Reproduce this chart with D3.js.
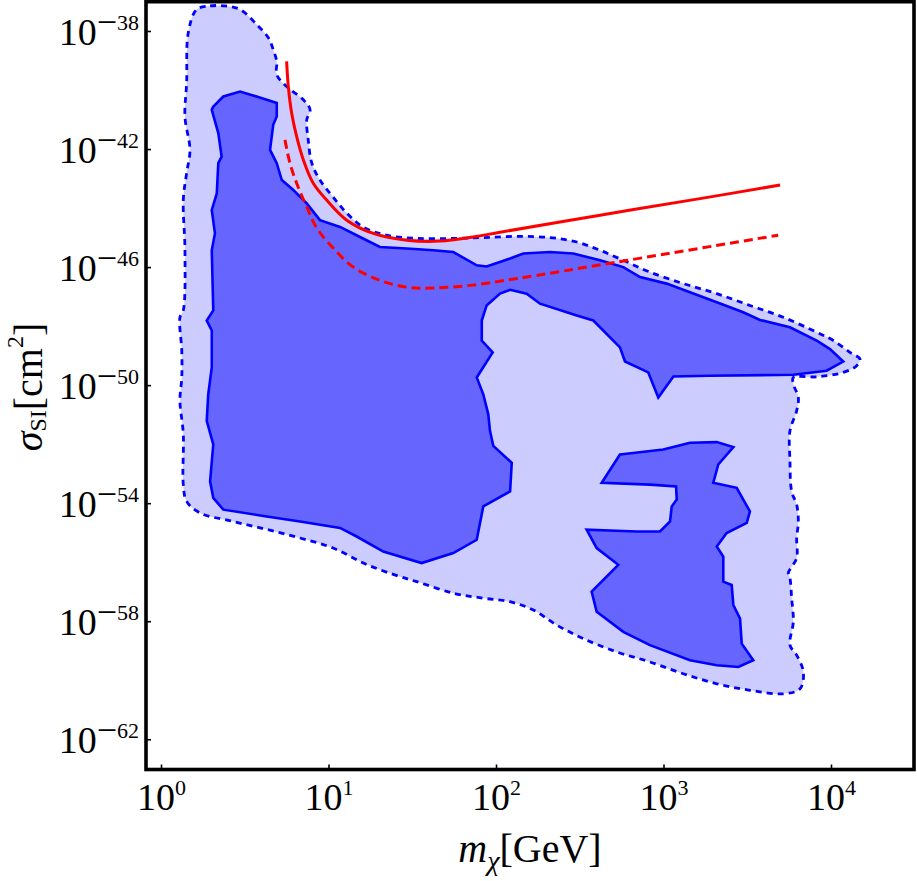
<!DOCTYPE html>
<html>
<head>
<meta charset="utf-8">
<script src="https://cdn.jsdelivr.net/npm/d3@7"></script>
<style>
  html, body { margin: 0; padding: 0; background: #ffffff; }
  svg { display: block; }
  text { font-family: "Liberation Serif", "Times New Roman", serif; fill: #000; }
</style>
</head>
<body>
<svg id="chart" width="917" height="881"></svg>
<script>
// ---------------- DATA ----------------
// Tick positions (powers of ten)
const xTickExps = [0, 1, 2, 3, 4];
const yTickExps = [-38, -42, -46, -50, -54, -58, -62];

// All shapes below: [log10(m_chi / GeV), log10(sigma_SI / cm^2)]
// Outer (light) allowed region, dashed boundary
const outerRegion = [
  [0.213,-37.27],[0.293,-37.15],[0.382,-37.15],[0.472,-37.27],[0.571,-37.78],[0.641,-38.23],
  [0.670,-38.63],[0.691,-39.03],[0.691,-39.48],[0.750,-39.88],[0.850,-40.33],[0.890,-40.67],
  [0.870,-41.01],[0.879,-41.69],[0.900,-42.47],[0.949,-43.05],[1.027,-43.62],[1.109,-44.17],
  [1.206,-44.64],[1.347,-44.92],[1.527,-45.03],[1.743,-45.03],[1.924,-45.00],[2.124,-44.96],
  [2.322,-45.00],[2.482,-45.15],[2.621,-45.43],[2.760,-45.77],[2.919,-46.17],[3.118,-46.56],
  [3.318,-46.90],[3.516,-47.30],[3.715,-47.70],[3.915,-48.21],[4.014,-48.49],[4.113,-48.89],
  [4.173,-49.12],[4.153,-49.34],[4.073,-49.57],[3.915,-49.72],[3.775,-49.74],[3.775,-49.96],
  [3.805,-50.42],[3.795,-50.87],[3.755,-51.55],[3.755,-52.57],[3.765,-53.60],[3.795,-54.05],
  [3.805,-54.62],[3.795,-55.18],[3.795,-55.86],[3.745,-56.37],[3.755,-56.54],[3.765,-57.22],
  [3.775,-58.02],[3.755,-58.81],[3.795,-59.15],[3.835,-59.72],[3.815,-60.29],[3.715,-60.46],
  [3.516,-60.34],[3.318,-60.12],[3.118,-59.78],[2.919,-59.38],[2.721,-59.04],[2.521,-58.59],
  [2.362,-58.13],[2.223,-57.62],[2.084,-57.34],[1.924,-57.22],[1.745,-57.05],[1.527,-56.66],
  [1.427,-56.49],[1.228,-56.08],[1.027,-55.52],[0.830,-55.18],[0.631,-54.89],[0.430,-54.62],
  [0.233,-54.33],[0.153,-53.94],[0.133,-53.36],[0.133,-51.66],[0.113,-50.53],[0.124,-49.74],
  [0.124,-48.83],[0.113,-47.70],[0.133,-47.47],[0.143,-45.43],[0.133,-43.73],[0.153,-42.81],
  [0.173,-42.03],[0.143,-40.91],[0.153,-39.75],[0.163,-38.05]
];

// Inner (dark) region: left column + upper band
const innerRegionA = [
  [0.312,-40.56],[0.372,-40.22],[0.472,-40.05],[0.571,-40.22],[0.691,-40.44],[0.691,-40.90],
  [0.670,-41.18],[0.651,-42.03],[0.691,-42.48],[0.721,-43.05],[0.790,-43.39],[0.870,-43.84],
  [0.949,-44.41],[1.069,-44.64],[1.188,-44.98],[1.307,-45.32],[1.467,-45.37],[1.626,-45.43],
  [1.745,-45.49],[1.885,-45.94],[1.944,-45.98],[2.084,-45.71],[2.163,-45.54],[2.322,-45.49],
  [2.461,-45.54],[2.621,-45.77],[2.760,-46.00],[2.860,-46.34],[3.019,-46.56],[3.158,-46.85],
  [3.318,-47.19],[3.476,-47.53],[3.576,-47.79],[3.755,-48.04],[3.915,-48.49],[3.994,-48.78],
  [4.073,-49.20],[3.974,-49.51],[3.775,-49.65],[3.278,-49.68],[3.059,-49.71],[2.969,-50.42],
  [2.909,-49.57],[2.770,-49.20],[2.740,-48.72],[2.581,-47.81],[2.482,-47.64],[2.263,-47.24],
  [2.183,-46.90],[2.084,-46.77],[2.024,-46.90],[1.944,-47.30],[1.915,-47.81],[1.915,-48.49],
  [1.980,-48.89],[1.885,-49.74],[1.924,-50.31],[1.954,-50.99],[1.964,-51.55],[1.984,-52.06],
  [2.094,-52.63],[2.084,-53.60],[1.924,-54.11],[1.885,-55.24],[1.745,-55.69],[1.556,-56.03],
  [1.327,-55.64],[1.168,-55.13],[1.069,-54.84],[0.830,-54.62],[0.631,-54.45],[0.372,-54.22],
  [0.312,-53.82],[0.293,-53.26],[0.312,-52.01],[0.273,-51.21],[0.282,-50.31],[0.303,-49.40],
  [0.303,-48.15],[0.273,-47.81],[0.312,-47.47],[0.303,-45.43],[0.322,-44.86],[0.303,-44.07],
  [0.333,-43.50],[0.342,-42.48],[0.362,-42.26],[0.342,-41.46],[0.303,-40.67]
];

// Inner (dark) region: lower-right island
const innerRegionB = [
  [2.740,-52.35],[2.999,-52.18],[3.158,-51.95],[3.318,-51.93],[3.417,-52.10],[3.327,-52.69],
  [3.297,-53.31],[3.437,-53.48],[3.516,-54.28],[3.497,-54.67],[3.377,-55.01],[3.318,-55.47],
  [3.357,-55.81],[3.357,-56.66],[3.407,-56.77],[3.417,-57.45],[3.457,-57.91],[3.467,-58.76],
  [3.536,-59.32],[3.447,-59.55],[3.318,-59.49],[3.158,-59.32],[2.919,-58.81],[2.760,-58.36],
  [2.601,-57.68],[2.571,-57.00],[2.730,-56.09],[2.601,-55.52],[2.541,-54.90],[2.840,-54.96],
  [2.979,-54.96],[3.039,-54.62],[3.049,-54.11],[3.079,-53.88],[3.075,-53.43],[2.919,-53.37],
  [2.631,-53.31]
];

// Experimental limits (red)
const limitSolid = [
  [0.750,-39.03],[0.760,-39.88],[0.780,-40.78],[0.810,-41.58],[0.850,-42.37],[0.909,-43.16],
  [0.989,-43.73],[1.109,-44.41],[1.267,-44.86],[1.467,-45.09],[1.666,-45.12],[1.864,-44.98],
  [2.024,-44.82],[2.621,-44.24],[3.218,-43.68],[3.696,-43.22]
];
const limitDashed = [
  [0.740,-41.69],[0.770,-42.48],[0.810,-43.16],[0.870,-43.96],[0.930,-44.68],[1.029,-45.36],
  [1.148,-46.00],[1.307,-46.45],[1.467,-46.68],[1.626,-46.71],[1.845,-46.62],[2.124,-46.39],
  [2.721,-45.83],[3.685,-44.92]
];

// ---------------- CHART ----------------
const svg = d3.select("#chart");
const L = 146, R = 914, T = 1.7, B = 769.5;

const x = d3.scaleLog()
  .domain([Math.pow(10, -0.0896), Math.pow(10, 4.4955)])
  .range([L, R]);
const y = d3.scaleLog()
  .domain([Math.pow(10, -63.025), Math.pow(10, -37.007)])
  .range([B, T]);

const px = d => x(Math.pow(10, d[0]));
const py = d => y(Math.pow(10, d[1]));

const smoothClosed = d3.line().x(px).y(py).curve(d3.curveCatmullRomClosed.alpha(0.5));
const linearClosed = d3.line().x(px).y(py).curve(d3.curveLinearClosed);
const smoothOpen = d3.line().x(px).y(py).curve(d3.curveCatmullRom.alpha(0.5));

const LIGHT = "#ccccff", DARK = "#6666ff", BLUE = "#0000ff", RED = "#ff0000";

svg.append("defs").append("clipPath").attr("id", "clip")
  .append("rect").attr("x", L).attr("y", T).attr("width", R - L).attr("height", B - T);

const plot = svg.append("g").attr("clip-path", "url(#clip)");

plot.append("path")
  .attr("d", smoothClosed(outerRegion))
  .attr("fill", LIGHT)
  .attr("stroke", BLUE)
  .attr("stroke-width", 2.8)
  .attr("stroke-dasharray", "6,5");

[innerRegionA, innerRegionB].forEach(reg => {
  plot.append("path")
    .attr("d", linearClosed(reg))
    .attr("fill", DARK)
    .attr("stroke", BLUE)
    .attr("stroke-width", 2.6)
    .attr("stroke-linejoin", "miter");
});

plot.append("path")
  .attr("d", smoothOpen(limitDashed))
  .attr("fill", "none")
  .attr("stroke", RED)
  .attr("stroke-width", 3)
  .attr("stroke-dasharray", "9,5");

plot.append("path")
  .attr("d", smoothOpen(limitSolid))
  .attr("fill", "none")
  .attr("stroke", RED)
  .attr("stroke-width", 3);

// ---------------- AXES ----------------
function powLabel(textSel, exp) {
  textSel.text(null);
  textSel.append("tspan").attr("font-size", 38).text("10");
  if (exp < 0) {
    textSel.append("tspan").attr("font-size", 36).attr("dy", -11).text("\u2212");
    textSel.append("tspan").attr("font-size", 22).attr("dy", -4).text(String(Math.abs(exp)));
  } else {
    textSel.append("tspan").attr("font-size", 22).attr("dy", -15).text(String(exp));
  }
}

const yAxis = d3.axisLeft(y)
  .tickValues(yTickExps.map(e => Math.pow(10, e)))
  .tickSizeInner(-5).tickSizeOuter(0).tickPadding(7)
  .tickFormat(() => "");
const gy = svg.append("g").attr("transform", `translate(${L},0)`).call(yAxis);
gy.select(".domain").remove();
gy.selectAll(".tick line").attr("stroke", "#000").attr("stroke-width", 1.6);
gy.selectAll(".tick text").each(function(d, i) {
  const t = d3.select(this);
  t.attr("dy", null).attr("y", 13).attr("x", -7).attr("text-anchor", "end");
  powLabel(t, yTickExps[i]);
});

const xAxis = d3.axisBottom(x)
  .tickValues(xTickExps.map(e => Math.pow(10, e)))
  .tickSizeInner(-5).tickSizeOuter(0).tickPadding(7)
  .tickFormat(() => "");
const gx = svg.append("g").attr("transform", `translate(0,${B})`).call(xAxis);
gx.select(".domain").remove();
gx.selectAll(".tick line").attr("stroke", "#000").attr("stroke-width", 1.6);
gx.selectAll(".tick text").each(function(d, i) {
  const t = d3.select(this);
  t.attr("dy", null).attr("y", 40.5).attr("text-anchor", "middle");
  powLabel(t, xTickExps[i]);
});

// Frame
svg.append("rect")
  .attr("x", L).attr("y", T).attr("width", R - L).attr("height", B - T)
  .attr("fill", "none").attr("stroke", "#000").attr("stroke-width", 3.6);

// Axis titles
const xt = svg.append("text")
  .attr("x", (L + R) / 2).attr("y", 862)
  .attr("text-anchor", "middle").attr("font-size", 40);
xt.append("tspan").attr("font-style", "italic").text("m");
xt.append("tspan").attr("font-style", "italic").attr("font-size", 28).attr("dy", 8).text("\u03C7");
xt.append("tspan").attr("dy", -8).text("[GeV]");

const yt = svg.append("text")
  .attr("transform", `translate(42,387) rotate(-90)`)
  .attr("text-anchor", "middle").attr("font-size", 40);
yt.append("tspan").attr("font-style", "italic").text("\u03C3");
yt.append("tspan").attr("font-size", 24).attr("dy", 4).text("SI");
yt.append("tspan").attr("dy", -4).text("[cm");
yt.append("tspan").attr("font-size", 24).attr("dy", -19).text("2");
yt.append("tspan").attr("dy", 19).text("]");
</script>
</body>
</html>
